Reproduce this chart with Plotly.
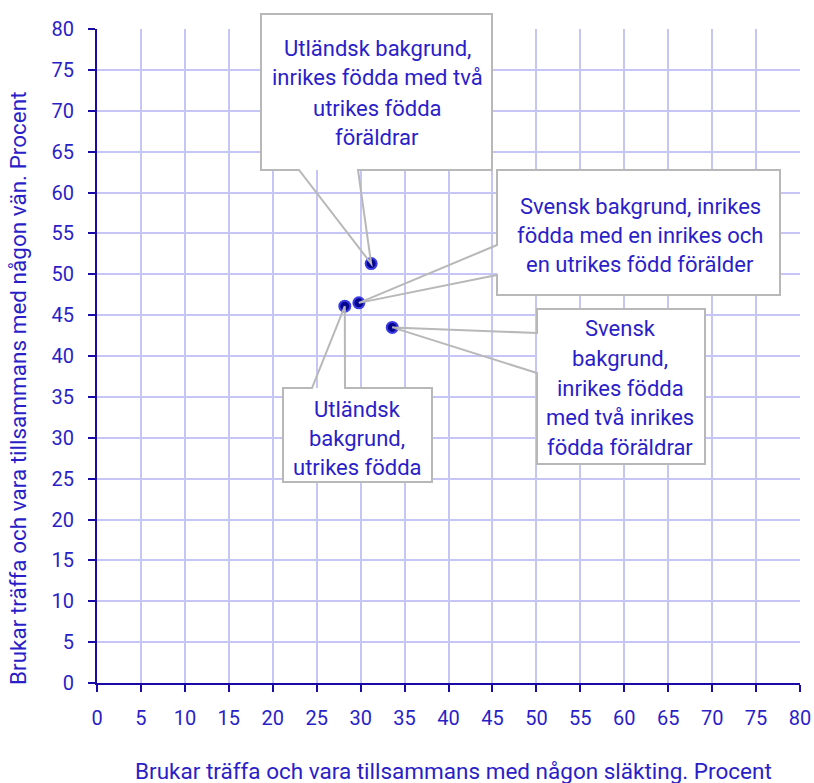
import plotly.graph_objects as go

# data
x_slakting = [31.2, 29.8, 33.6, 28.2]
y_van = [51.3, 46.5, 43.5, 46.1]
label_lines = [
    ["Utländsk bakgrund,", "inrikes födda med två", "utrikes födda", "föräldrar"],
    ["Svensk bakgrund, inrikes", "födda med en inrikes och", "en utrikes född förälder"],
    ["Svensk", "bakgrund,", "inrikes födda", "med två inrikes", "födda föräldrar"],
    ["Utländsk", "bakgrund,", "utrikes födda"],
]
x_ticks = list(range(0, 85, 5))
y_ticks = list(range(0, 85, 5))

TXT = "#2a1ec8"
AXIS = "#1a0aa8"
GRID = "#c6c6f6"
BORDER = "#b8b8b8"

W, H = 814, 783
PL, PR, PT, PB = 97, 800, 29, 683  # plot area in pixels
L, T, R, B = PL, PT, W - PR, H - PB


def px(p):
    return (p - PL) / (PR - PL)


def py(p):
    return (PB - p) / (PB - PT)


fig = go.Figure()
fig.add_trace(go.Scatter(
    x=x_slakting, y=y_van, mode="markers",
    marker=dict(size=11, color="#06068e", line=dict(color="#3c3ce6", width=2)),
    showlegend=False, hoverinfo="skip",
))

# callout boxes (pixels): box, pointer side and base, text line positions
boxes = [
    dict(box=(261, 14, 492, 170), side="bottom", base=(299, 358),
         cx=377, lines_y=[49, 78, 108, 137]),
    dict(box=(497, 170, 780, 295), side="left", base=(245, 275),
         cx=640, lines_y=[206, 235, 264]),
    dict(box=(537, 309, 705, 464), side="left", base=(333, 373),
         cx=620, lines_y=[328, 358, 388, 417, 447]),
    dict(box=(283, 388, 432, 482), side="top", base=(312, 345),
         cx=357, lines_y=[410, 438, 467]),
]

shapes = []
annotations = []
for i, b in enumerate(boxes):
    x0, y0, x1, y1 = b["box"]
    tip = (x_slakting[i] / 80, y_van[i] / 80)
    shapes.append(dict(type="rect", xref="paper", yref="paper",
                       x0=px(x0), x1=px(x1), y0=py(y1), y1=py(y0),
                       fillcolor="white", line=dict(width=0), layer="above"))
    b0, b1 = b["base"]
    if b["side"] == "bottom":
        pts = [(px(x0), py(y0)), (px(x1), py(y0)), (px(x1), py(y1)),
               (px(b1), py(y1)), tip, (px(b0), py(y1)), (px(x0), py(y1))]
    elif b["side"] == "top":
        pts = [(px(x0), py(y0)), (px(b0), py(y0)), tip, (px(b1), py(y0)),
               (px(x1), py(y0)), (px(x1), py(y1)), (px(x0), py(y1))]
    else:
        pts = [(px(x0), py(y0)), (px(x1), py(y0)), (px(x1), py(y1)),
               (px(x0), py(y1)), (px(x0), py(b1)), tip, (px(x0), py(b0))]
    path = "M " + " L ".join(f"{a:.5f},{c:.5f}" for a, c in pts) + " Z"
    shapes.append(dict(type="path", xref="paper", yref="paper", path=path,
                       line=dict(color=BORDER, width=2), layer="above"))
    for line, ly in zip(label_lines[i], b["lines_y"]):
        annotations.append(dict(text=line, xref="paper", yref="paper",
                                x=px(b["cx"]), y=py(ly), showarrow=False,
                                xanchor="center", yanchor="middle",
                                font=dict(size=22, color=TXT, family="Roboto")))

annotations.append(dict(text="Brukar träffa och vara tillsammans med någon släkting. Procent",
                        xref="paper", yref="paper", x=px(454), y=py(771),
                        showarrow=False, xanchor="center", yanchor="middle",
                        font=dict(size=22.5, color=TXT, family="Roboto")))
annotations.append(dict(text="Brukar träffa och vara tillsammans med någon vän. Procent",
                        xref="paper", yref="paper", x=px(18), y=py(388),
                        showarrow=False, xanchor="center", yanchor="middle",
                        textangle=-90,
                        font=dict(size=22.5, color=TXT, family="Roboto")))

axis_common = dict(
    showgrid=True, gridcolor=GRID, gridwidth=1.5,
    showline=True, linecolor=AXIS, linewidth=2,
    ticks="outside", ticklen=7, tickcolor=AXIS, tickwidth=2,
    tickfont=dict(size=20, color=TXT, family="Roboto"),
    zeroline=False, fixedrange=True, automargin=False,
)

fig.update_layout(
    width=W, height=H,
    margin=dict(l=L, r=R, t=T, b=B),
    plot_bgcolor="white", paper_bgcolor="white",
    xaxis=dict(range=[0, 80], tickvals=x_ticks, ticklabelstandoff=9, **axis_common),
    yaxis=dict(range=[0, 80], tickvals=y_ticks, ticklabelstandoff=10, **axis_common),
    shapes=shapes, annotations=annotations,
    font=dict(family="Roboto", color=TXT),
)

# drop the page's default body margin so the figure fills the window
fig.write_html("out.html", config={"displayModeBar": False},
               post_script="document.body.style.margin='0';"
                           "document.body.style.overflow='hidden';")
